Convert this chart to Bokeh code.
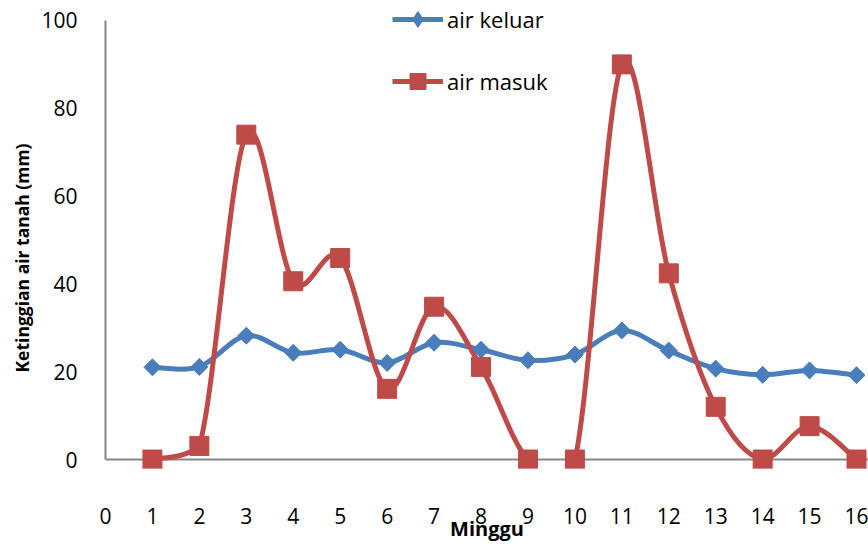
import math
from bokeh.plotting import figure
from bokeh.models import (Range1d, LinearAxis, FixedTicker, Legend, LegendItem,
                          Span, Title)
from bokeh.embed import file_html
from bokeh.resources import INLINE

# Weekly groundwater levels (mm)
minggu = [1, 2, 3, 4, 5, 6, 7, 8, 9, 10, 11, 12, 13, 14, 15, 16]
air_keluar = [21.0, 21.1, 28.2, 24.3, 25.0, 22.0, 26.6, 25.0, 22.6, 23.9,
              29.4, 24.8, 20.7, 19.3, 20.3, 19.2]
air_masuk = [0.0, 3.1, 74.0, 40.6, 45.9, 16.1, 34.8, 21.1, 0.0, 0.0,
             90.0, 42.4, 12.0, 0.0, 7.6, 0.0]
x_ticks = list(range(0, 17))
y_ticks = [0, 20, 40, 60, 80, 100]

BLUE = "#4A7EBB"
RED = "#BE4B48"
AXIS = "#868686"
FONT = "Open Sans"

Y_LO, Y_HI = -2.045, 104.55
X_HI = 16.255
FLOOR = 0  # the value axis starts at zero


def smooth_segments(xs, ys, floor=FLOOR):
    """Cubic Bezier pieces (Catmull-Rom style) joining consecutive points.

    Control points are kept at or above the axis floor, and pieces lying
    entirely on the floor are left out, since the plot area ends there.
    """
    n = len(xs)
    seg = dict(x0=[], y0=[], x1=[], y1=[], cx0=[], cy0=[], cx1=[], cy1=[])
    for i in range(n - 1):
        xp, yp = (xs[i - 1], ys[i - 1]) if i > 0 else (xs[i], ys[i])
        xn, yn = (xs[i + 2], ys[i + 2]) if i + 2 < n else (xs[i + 1], ys[i + 1])
        cy0 = ys[i] + (ys[i + 1] - yp) / 6
        cy1 = ys[i + 1] - (yn - ys[i]) / 6
        if max(ys[i], ys[i + 1], cy0, cy1) <= floor:
            continue
        seg["x0"].append(xs[i]); seg["y0"].append(ys[i])
        seg["x1"].append(xs[i + 1]); seg["y1"].append(ys[i + 1])
        seg["cx0"].append(xs[i] + (xs[i + 1] - xp) / 6)
        seg["cy0"].append(max(cy0, floor))
        seg["cx1"].append(xs[i + 1] - (xn - xs[i]) / 6)
        seg["cy1"].append(max(cy1, floor))
    return seg


p = figure(width=868, height=544, output_backend="svg", toolbar_location=None,
           x_range=Range1d(0, X_HI), y_range=Range1d(Y_LO, Y_HI),
           x_axis_type=None, y_axis_type=None,
           min_border_left=105, min_border_right=0,
           min_border_top=0, min_border_bottom=75)
p.outline_line_color = None
p.background_fill_color = "white"
p.border_fill_color = "white"
p.xgrid.visible = False
p.ygrid.visible = False

# horizontal axis line at zero, drawn beneath the markers
zero_line = Span(location=FLOOR, dimension="width", line_color=AXIS,
                 line_width=2, level="underlay")
p.add_layout(zero_line)

# smoothed series lines
k_seg = smooth_segments(minggu, air_keluar)
m_seg = smooth_segments(minggu, air_masuk)
r_k_line = p.bezier(source=k_seg, x0="x0", y0="y0", x1="x1", y1="y1",
                    cx0="cx0", cy0="cy0", cx1="cx1", cy1="cy1",
                    line_color=BLUE, line_width=5)
r_m_line = p.bezier(source=m_seg, x0="x0", y0="y0", x1="x1", y1="y1",
                    cx0="cx0", cy0="cy0", cx1="cx1", cy1="cy1",
                    line_color=RED, line_width=5)

# blue diamonds: a narrow diamond core (also the legend key) under a
# square turned 45 degrees, which gives the wider diamond outline
k_key = p.scatter(minggu, air_keluar, marker="diamond", size=16,
                  fill_color=BLUE, line_color=BLUE)
r_k_pts = p.scatter(minggu, air_keluar, marker="square", angle=math.pi / 4,
                    size=12, fill_color=BLUE, line_color=BLUE)
r_m_pts = p.scatter(minggu, air_masuk, marker="square", size=19,
                    fill_color=RED, line_color=RED)

# axes
xaxis = LinearAxis(bounds=(0, 16), ticker=FixedTicker(ticks=x_ticks),
                   axis_label="Minggu")
yaxis = LinearAxis(bounds=(0, 100), ticker=FixedTicker(ticks=y_ticks))
for ax in (xaxis, yaxis):
    ax.axis_line_color = AXIS
    ax.axis_line_width = 2
    ax.major_tick_line_color = None
    ax.minor_tick_line_color = None
    ax.major_label_text_font = FONT
    ax.major_label_text_font_size = "21px"
    ax.major_label_text_color = "black"
    ax.axis_label_text_font = FONT
    ax.axis_label_text_font_style = "bold"
    ax.axis_label_text_font_size = "20px"
    ax.axis_label_text_color = "black"
xaxis.axis_line_color = None
xaxis.major_label_standoff = 33
xaxis.axis_label_standoff = -12
yaxis.major_label_standoff = 22
yaxis.major_label_orientation = "horizontal"
p.add_layout(xaxis, "below")
p.add_layout(yaxis, "left")

ytitle = Title(text="Ketinggian air tanah (mm)", align="left", offset=96,
               text_font=FONT, text_font_style="bold", text_font_size="17.5px",
               text_color="black", standoff=10)
p.add_layout(ytitle, "left")

legend = Legend(items=[
    LegendItem(label="air keluar", renderers=[r_k_line, k_key]),
    LegendItem(label="air masuk", renderers=[r_m_line, r_m_pts]),
], location=(287, 367), orientation="vertical")
legend.background_fill_alpha = 0
legend.border_line_color = None
legend.padding = 0
legend.margin = 0
legend.spacing = 22
legend.glyph_width = 51
legend.glyph_height = 40
legend.label_standoff = 4
legend.label_text_font = FONT
legend.label_text_font_size = "22px"
legend.label_text_color = "black"
p.add_layout(legend, "center")

open("out.html", "w").write(file_html(p, INLINE))
